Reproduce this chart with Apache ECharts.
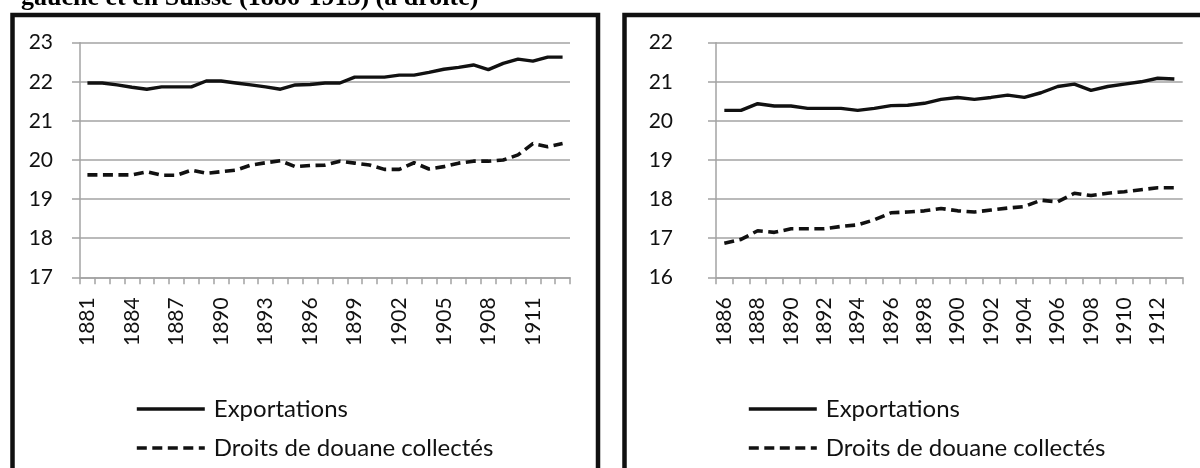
<!DOCTYPE html>
<html lang="fr">
<head>
<meta charset="utf-8">
<title>Exportations et droits de douane</title>
<script src="https://cdn.jsdelivr.net/npm/echarts@6/dist/echarts.min.js"></script>
<style>
  html, body { margin: 0; padding: 0; background: #ffffff; }
  #chart { width: 1200px; height: 468px; }
</style>
</head>
<body>
<div id="chart"></div>
<script>
// Left panel: 1881-1913
const leftYears = ['1881','1882','1883','1884','1885','1886','1887','1888','1889','1890',
  '1891','1892','1893','1894','1895','1896','1897','1898','1899','1900',
  '1901','1902','1903','1904','1905','1906','1907','1908','1909','1910',
  '1911','1912','1913'];
const leftExports = [21.97, 21.97, 21.92, 21.86, 21.81, 21.87, 21.87, 21.87, 22.02, 22.02,
  21.97, 21.92, 21.87, 21.81, 21.92, 21.93, 21.97, 21.97, 22.12, 22.12,
  22.12, 22.17, 22.17, 22.24, 22.32, 22.37, 22.43, 22.31, 22.47, 22.58,
  22.53, 22.63, 22.63];
const leftDuties = [19.62, 19.62, 19.62, 19.62, 19.70, 19.61, 19.61, 19.74, 19.66, 19.70,
  19.74, 19.87, 19.93, 19.98, 19.83, 19.86, 19.87, 19.97, 19.92, 19.87,
  19.76, 19.76, 19.93, 19.77, 19.83, 19.92, 19.97, 19.97, 20.00, 20.13,
  20.42, 20.34, 20.42];

// Right panel (Suisse): 1886-1913
const rightYears = ['1886','1887','1888','1889','1890','1891','1892','1893','1894','1895',
  '1896','1897','1898','1899','1900','1901','1902','1903','1904','1905',
  '1906','1907','1908','1909','1910','1911','1912','1913'];
const rightExports = [20.27, 20.27, 20.44, 20.38, 20.38, 20.32, 20.32, 20.32, 20.27, 20.32,
  20.39, 20.40, 20.45, 20.55, 20.60, 20.55, 20.60, 20.66, 20.60, 20.72,
  20.88, 20.94, 20.78, 20.88, 20.94, 21.00, 21.09, 21.07];
const rightDuties = [16.87, 16.97, 17.19, 17.15, 17.24, 17.24, 17.24, 17.30, 17.34, 17.47,
  17.65, 17.67, 17.70, 17.76, 17.70, 17.67, 17.72, 17.77, 17.81, 17.97,
  17.93, 18.15, 18.09, 18.15, 18.19, 18.24, 18.29, 18.29];

const leftTicks = { min: 17, max: 23, interval: 1 };
const rightTicks = { min: 16, max: 22, interval: 1 };

const seriesNames = ['Exportations', 'Droits de douane collectés'];
const captionText = 'gauche et en Suisse (1886-1913) (à droite)';

const FONT = 'Lato, "Open Sans", sans-serif';
const INK = '#111111';
const GRID_GREY = '#a3a3a3';

function categoryAxis(gridIndex, data, labelInterval) {
  return {
    type: 'category',
    gridIndex: gridIndex,
    data: data,
    boundaryGap: true,
    axisLine: { lineStyle: { color: GRID_GREY, width: 1.5 } },
    axisTick: { show: true, interval: 0, length: 7, alignWithLabel: false,
      lineStyle: { color: GRID_GREY, width: 1.5 } },
    axisLabel: { interval: labelInterval, rotate: 90, margin: 20,
      fontFamily: FONT, fontSize: 21, color: INK },
    splitLine: { show: false }
  };
}

function valueAxis(gridIndex, ticks, margin) {
  return {
    type: 'value',
    gridIndex: gridIndex,
    min: ticks.min,
    max: ticks.max,
    interval: ticks.interval,
    axisLine: { show: true, lineStyle: { color: GRID_GREY, width: 1.5 } },
    axisTick: { show: true, length: 8, lineStyle: { color: GRID_GREY, width: 1.5 } },
    axisLabel: { margin: margin, fontFamily: FONT, fontSize: 21, color: INK },
    splitLine: { show: true, lineStyle: { color: GRID_GREY, width: 1.5 } }
  };
}

function solidSeries(idx, data) {
  return {
    name: seriesNames[0], type: 'line', xAxisIndex: idx, yAxisIndex: idx,
    data: data, symbol: 'none', silent: true,
    lineStyle: { color: INK, width: 3.4, type: 'solid' },
    itemStyle: { color: INK }
  };
}

function dashedSeries(idx, data) {
  return {
    name: seriesNames[1], type: 'line', xAxisIndex: idx, yAxisIndex: idx,
    data: data, symbol: 'none', silent: true,
    lineStyle: { color: INK, width: 3.6, type: [10, 5.5] },
    itemStyle: { color: INK }
  };
}

function legendBlock(left) {
  return {
    data: seriesNames,
    orient: 'vertical',
    left: left,
    top: 392,
    itemWidth: 68,
    itemHeight: 22,
    itemGap: 15,
    selectedMode: false,
    // line sample only, no marker in the middle
    itemStyle: { opacity: 0 },
    lineStyle: { width: 3.6, opacity: 1 },
    textStyle: { fontFamily: FONT, fontSize: 24, color: INK, padding: [0, 0, 0, 4] }
  };
}

const chart = echarts.init(document.getElementById('chart'), null, { renderer: 'canvas' });

chart.setOption({
  animation: false,
  backgroundColor: '#ffffff',
  grid: [
    { left: 80, top: 42.7, width: 490, height: 234.6 },
    { left: 716, top: 42.7, width: 466.7, height: 234.6 }
  ],
  xAxis: [
    categoryAxis(0, leftYears, 2),
    categoryAxis(1, rightYears, 1)
  ],
  yAxis: [
    valueAxis(0, leftTicks, 27),
    valueAxis(1, rightTicks, 43)
  ],
  legend: [legendBlock(130), legendBlock(742)],
  series: [
    solidSeries(0, leftExports),
    dashedSeries(0, leftDuties),
    solidSeries(1, rightExports),
    dashedSeries(1, rightDuties)
  ],
  graphic: [
    {
      type: 'text', left: 21, top: -15, silent: true,
      style: { text: captionText, font: 'bold 26px "Liberation Serif", "Times New Roman", serif', fill: '#000' }
    },
    {
      type: 'rect', silent: true,
      shape: { x: 12.5, y: 15, width: 585.5, height: 520 },
      style: { fill: 'none', stroke: INK, lineWidth: 4.5 }
    },
    {
      type: 'rect', silent: true,
      shape: { x: 624.5, y: 15, width: 700, height: 520 },
      style: { fill: 'none', stroke: INK, lineWidth: 4.5 }
    }
  ]
});
</script>
</body>
</html>
